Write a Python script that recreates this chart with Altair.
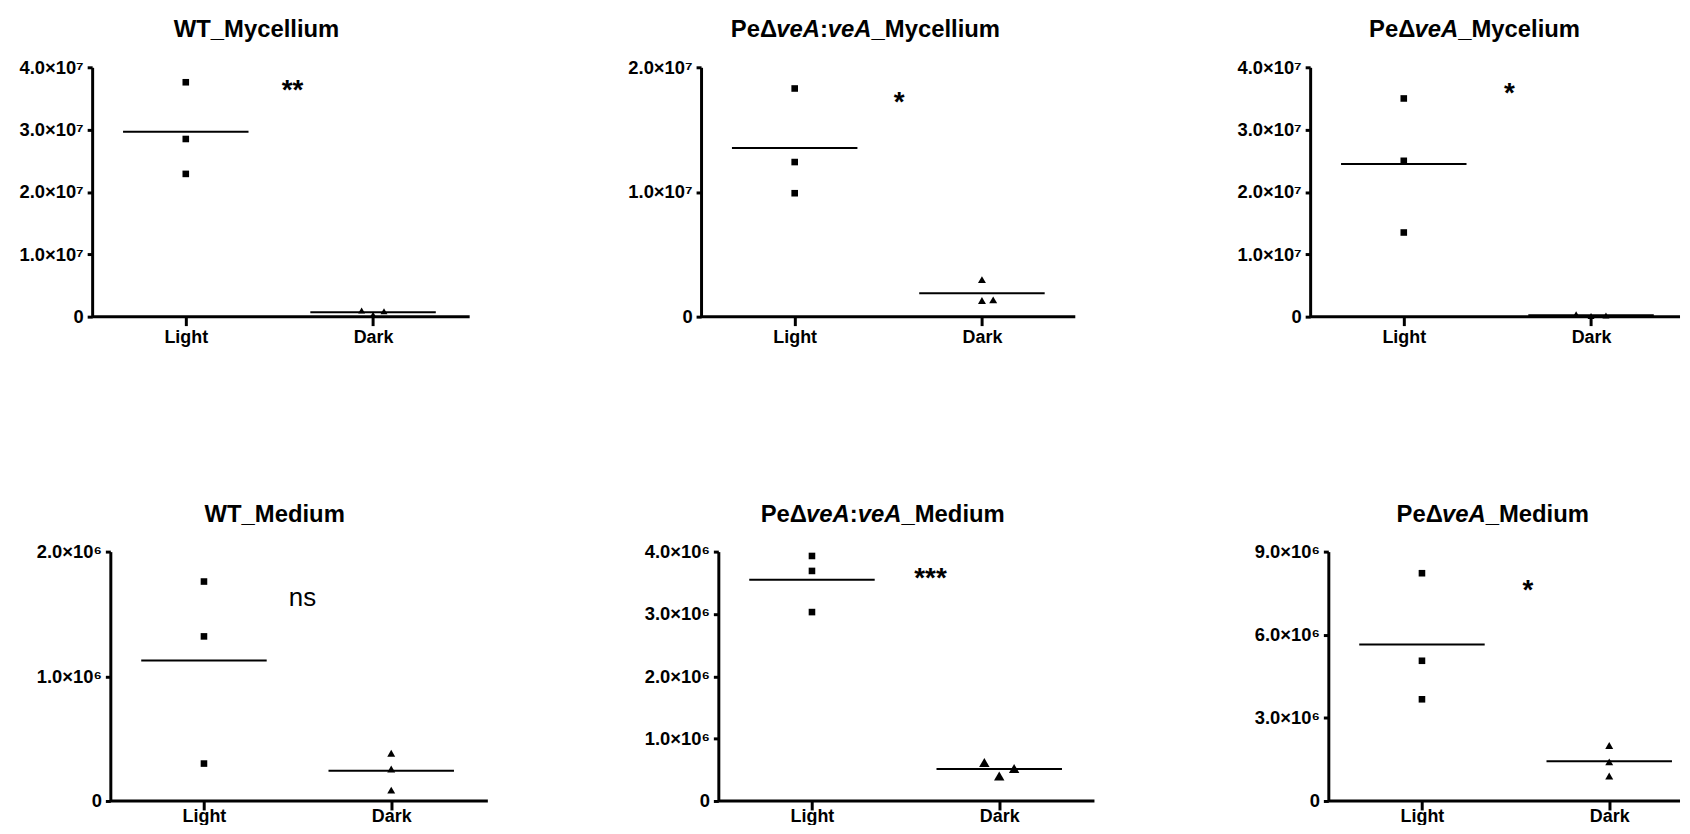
import altair as alt
import pandas as pd

FONT = "Liberation Sans"

# ---------------- data ----------------
categories = ["Light", "Dark"]

panel_titles = [
    [("WT_Mycellium", "normal")],
    [("PeΔ", "normal"), ("veA", "italic"), (":", "normal"), ("veA", "italic"), ("_Mycellium", "normal")],
    [("PeΔ", "normal"), ("veA", "italic"), ("_Mycelium", "normal")],
    [("WT_Medium", "normal")],
    [("PeΔ", "normal"), ("veA", "italic"), (":", "normal"), ("veA", "italic"), ("_Medium", "normal")],
    [("PeΔ", "normal"), ("veA", "italic"), ("_Medium", "normal")],
]

light_values = [
    [3.76e7, 2.85e7, 2.29e7],
    [1.83e7, 1.24e7, 0.99e7],
    [3.50e7, 2.50e7, 1.35e7],
    [1.76e6, 1.32e6, 0.30e6],
    [3.93e6, 3.69e6, 3.03e6],
    [8.22e6, 5.06e6, 3.67e6],
]

dark_values = [
    [1.0e6, 0.3e6, 0.85e6],
    [2.97e6, 1.30e6, 1.35e6],
    [0.4e6, 0.1e6, 0.2e6],
    [0.383e6, 0.256e6, 0.087e6],
    [0.617e6, 0.40e6, 0.52e6],
    [2.0e6, 1.41e6, 0.90e6],
]

significance = ["**", "*", "*", "ns", "***", "*"]
significance_y = [3.67e7, 1.74e7, 3.62e7, 1.62e6, 3.61e6, 7.69e6]

y_tick_values = [
    [0, 1e7, 2e7, 3e7, 4e7],
    [0, 1e7, 2e7],
    [0, 1e7, 2e7, 3e7, 4e7],
    [0, 1e6, 2e6],
    [0, 1e6, 2e6, 3e6, 4e6],
    [0, 3e6, 6e6, 9e6],
]
y_tick_labels = [
    ["0", "1.0×10⁷", "2.0×10⁷", "3.0×10⁷", "4.0×10⁷"],
    ["0", "1.0×10⁷", "2.0×10⁷"],
    ["0", "1.0×10⁷", "2.0×10⁷", "3.0×10⁷", "4.0×10⁷"],
    ["0", "1.0×10⁶", "2.0×10⁶"],
    ["0", "1.0×10⁶", "2.0×10⁶", "3.0×10⁶", "4.0×10⁶"],
    ["0", "3.0×10⁶", "6.0×10⁶", "9.0×10⁶"],
]

# ---------------- layout / style ----------------
PPU = 188.5            # pixels per category unit
AXIS_VAL = 0.5         # x value at which the y axis sits
PLOT_H = 251
COL_W = [378, 380, 354]
COL_GAP = 234
ROW_GAP = 236.5
ROW1_AXIS_OFFSET = [18.3, 17.4, 18.3]
X_LABEL_PAD = [3, -2]  # per row
X_AXIS_LEN = [380, 376.7, None, 380, 378.6, None]
DARK_JITTER_PX = [[-11.5, 0, 11], [0, 0, 11.3], [-15, 0, 15], [0, 0, 0], [-15, 0, 15], [0, 0, 0]]
TRI_SIZE = [49, 64, 49, 64, 110, 64]
SQ_SIZE = 44
SIG_X = [1.570, 1.558, 1.564, 1.526, 1.633, 1.566]
MEAN_HALF = 0.335
TITLE_CENTER = 165.5
TITLE_BASELINE = -30
TITLE_SIZE = 24

BOLD_W = {"W": .944, "T": .611, "_": .556, "M": .833, "y": .556, "c": .556, "e": .556,
          "l": .278, "i": .278, "u": .611, "m": .889, "d": .611, "P": .667, "Δ": .68,
          "v": .556, "A": .722, ":": .333}


def text_width(s):
    return sum(BOLD_W.get(ch, 0.6) for ch in s) * TITLE_SIZE


def label_expr(vals, labs):
    expr = "''"
    for v, l in reversed(list(zip(vals, labs))):
        expr = f"datum.value == {v} ? '{l}' : ({expr})"
    return expr


def make_panel(i):
    row, col = divmod(i, 3)
    off = ROW1_AXIS_OFFSET[col] if row == 0 else 0.0
    W = COL_W[col]
    v0 = AXIS_VAL + off / PPU
    v1 = v0 + W / PPU
    xs = alt.Scale(domain=[v0, v1], nice=False, zero=False)
    ys = alt.Scale(domain=[0, y_tick_values[i][-1]], nice=False, zero=True)

    rows = []
    for v in light_values[i]:
        rows.append({"group": categories[0], "pos": 1.0, "x": 1.0, "value": v})
    for k, v in enumerate(dark_values[i]):
        rows.append({"group": categories[1], "pos": 2.0,
                     "x": 2.0 + DARK_JITTER_PX[i][k] / PPU, "value": v})
    df = pd.DataFrame(rows)

    x_axis = alt.Axis(values=[1, 2],
                      labelExpr=f"datum.value == 1 ? '{categories[0]}' : '{categories[1]}'",
                      domain=False, tickSize=9, tickWidth=3, tickColor="black",
                      labelPadding=X_LABEL_PAD[row], labelFontSize=18, labelAngle=0,
                      title=None, grid=False)
    y_axis = alt.Axis(values=y_tick_values[i], labelExpr=label_expr(y_tick_values[i], y_tick_labels[i]),
                      offset=off, tickSize=5, tickWidth=3, tickColor="black",
                      domainWidth=3, domainColor="black", labelPadding=4, labelFontSize=18.5,
                      title=None, grid=False)

    def X(field):
        return alt.X(field, scale=xs, axis=x_axis, title=None)

    def Y(field):
        return alt.Y(field, scale=ys, axis=y_axis, title=None)

    base = alt.Chart(df)
    light = base.transform_filter(f"datum.group == '{categories[0]}'").mark_point(
        shape="square", filled=True, color="black", opacity=1, size=SQ_SIZE, strokeWidth=0
    ).encode(x=X("x:Q"), y=Y("value:Q"))
    dark = base.transform_filter(f"datum.group == '{categories[1]}'").mark_point(
        shape="triangle-up", filled=True, color="black", opacity=1, size=TRI_SIZE[i], strokeWidth=0
    ).encode(x=X("x:Q"), y=Y("value:Q"))

    means = base.transform_aggregate(
        mean="mean(value)", groupby=["group", "pos"]
    ).transform_calculate(
        xa=f"datum.pos - {MEAN_HALF}", xb=f"datum.pos + {MEAN_HALF}"
    ).mark_rule(color="black", strokeWidth=2).encode(
        x=X("xa:Q"), x2="xb:Q", y=Y("mean:Q")
    )

    x_end = AXIS_VAL + X_AXIS_LEN[i] / PPU if X_AXIS_LEN[i] else v1
    baseline = alt.Chart(pd.DataFrame({"a": [AXIS_VAL], "b": [x_end], "y0": [0.0]})).mark_rule(
        color="black", strokeWidth=3
    ).encode(x=X("a:Q"), x2="b:Q", y=Y("y0:Q"))

    lab = significance[i]
    if lab == "ns":
        sig_style = dict(fontSize=26, fontWeight="normal", dy=7)
    else:
        sig_style = dict(fontSize=28, fontWeight="bold", dy=11)
    sig = alt.Chart(pd.DataFrame({"t": [lab], "sx": [SIG_X[i]], "sy": [significance_y[i]]})).mark_text(
        font=FONT, color="black", align="center", baseline="alphabetic", **sig_style
    ).encode(x=X("sx:Q"), y=Y("sy:Q"), text="t:N")

    pieces = panel_titles[i]
    total = sum(text_width(p) for p, _ in pieces)
    px = -off + TITLE_CENTER - total / 2
    title_layers = []
    for p, style in pieces:
        title_layers.append(
            alt.Chart(pd.DataFrame({"t": [p]})).mark_text(
                font=FONT, fontSize=TITLE_SIZE, fontWeight="bold", fontStyle=style,
                align="left", baseline="alphabetic", color="black"
            ).encode(x=alt.value(px), y=alt.value(TITLE_BASELINE), text="t:N")
        )
        px += text_width(p)

    return alt.layer(light, baseline, means, dark, sig, *title_layers).properties(
        width=W, height=PLOT_H
    )


panels = [make_panel(i) for i in range(6)]

chart = alt.concat(
    *panels, columns=3, spacing={"row": ROW_GAP, "column": COL_GAP},
    bounds="flush", align="each"
).properties(
    padding={"left": 10, "top": 8, "right": 0, "bottom": -4}, background="white"
).configure_view(stroke=None).configure_axis(
    labelFont=FONT, labelFontWeight="bold", labelColor="black"
)

chart.save("out.html", embed_options={"renderer": "svg", "actions": False})
